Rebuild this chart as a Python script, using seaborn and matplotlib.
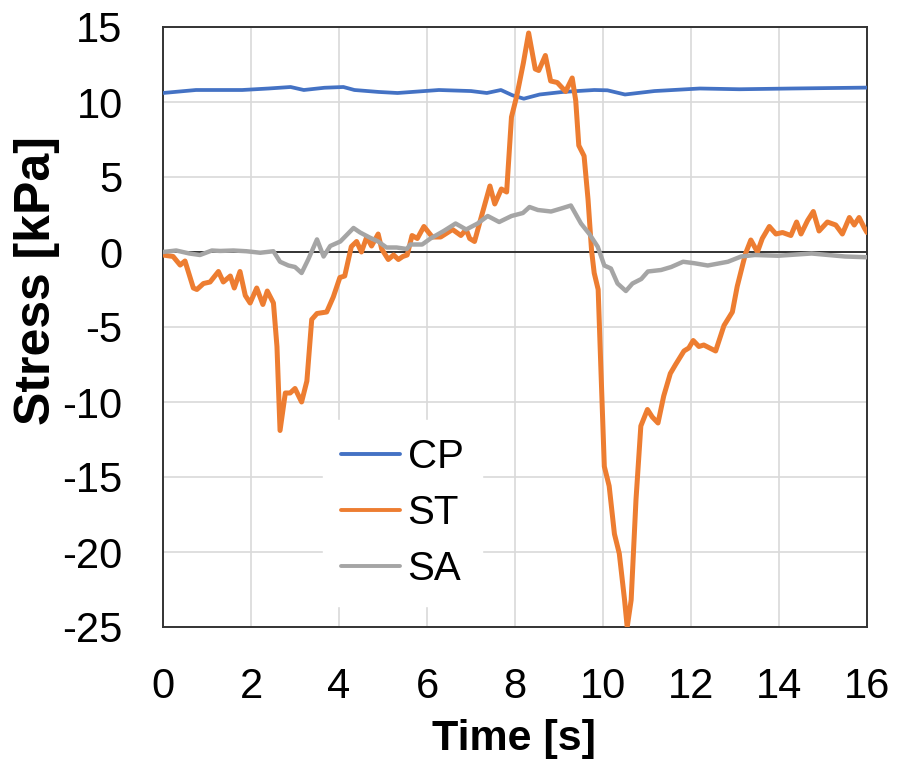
import numpy as np
import pandas as pd
import matplotlib
matplotlib.use("Agg")
import matplotlib.pyplot as plt
import seaborn as sns

# ---- data ----
cp_t = [0, 0.75, 1.8, 2.4, 2.9, 3.2, 3.67, 4.1, 4.35, 4.9, 5.33, 6.27, 7.0, 7.36, 7.68,
        7.94, 8.2, 8.56, 9.08, 9.8, 10.1, 10.5, 11.17, 12.2, 13.1, 14.3, 16.0]
cp_v = [10.6, 10.8, 10.8, 10.9, 11.0, 10.8, 10.95, 11.0, 10.8, 10.67, 10.6, 10.8, 10.73, 10.6, 10.8,
        10.45, 10.22, 10.5, 10.67, 10.8, 10.78, 10.5, 10.73, 10.9, 10.85, 10.9, 10.96]

st_t = [0.0, 0.23, 0.39, 0.5, 0.69, 0.77, 0.92, 1.07, 1.26, 1.37, 1.53, 1.62, 1.75, 1.87, 1.98,
        2.13, 2.27, 2.37, 2.51, 2.59, 2.66, 2.78, 2.89, 3.0, 3.15, 3.27, 3.38, 3.5, 3.72, 3.87,
        4.02, 4.13, 4.28, 4.4, 4.51, 4.63, 4.74, 4.89, 4.97, 5.12, 5.24, 5.35, 5.45, 5.55, 5.66,
        5.78, 5.93, 6.12, 6.31, 6.58, 6.77, 6.89, 6.97, 7.08, 7.24, 7.43, 7.54, 7.69, 7.81, 7.92,
        8.04, 8.19, 8.31, 8.46, 8.54, 8.69, 8.81, 8.96, 9.15, 9.3, 9.38, 9.45, 9.57, 9.66, 9.74,
        9.8, 9.89, 9.95, 10.03, 10.14, 10.26, 10.37, 10.49, 10.55, 10.64, 10.75, 10.86, 11.01,
        11.12, 11.25, 11.38, 11.53, 11.65, 11.84, 11.95, 12.05, 12.18, 12.29, 12.56, 12.75, 12.94,
        13.05, 13.17, 13.24, 13.36, 13.51, 13.62, 13.78, 13.93, 14.08, 14.27, 14.4, 14.5, 14.65,
        14.78, 14.91, 15.1, 15.29, 15.44, 15.6, 15.71, 15.82, 15.94, 16.0]
st_v = [-0.2, -0.3, -0.87, -0.6, -2.4, -2.5, -2.1, -2.0, -1.3, -2.0, -1.6, -2.4, -1.3, -2.9, -3.4,
        -2.4, -3.5, -2.6, -3.4, -6.3, -11.9, -9.4, -9.4, -9.1, -10.0, -8.6, -4.5, -4.1, -4.0, -3.0,
        -1.7, -1.6, 0.36, 0.7, 0.0, 1.0, 0.4, 1.2, 0.2, -0.5, -0.2, -0.5, -0.3, -0.2, 1.1,
        0.9, 1.7, 1.0, 1.0, 1.5, 1.1, 1.5, 0.9, 0.7, 2.4, 4.4, 3.2, 4.2, 4.0, 9.0,
        10.4, 12.6, 14.6, 12.2, 12.1, 13.1, 11.4, 11.3, 10.7, 11.6, 10.1, 7.1, 6.4, 3.5, 0.1,
        -1.4, -2.5, -7.6, -14.3, -15.6, -18.8, -20.1, -23.2, -25.0, -23.2, -16.5, -11.6, -10.5,
        -11.0, -11.4, -9.6, -8.1, -7.5, -6.6, -6.4, -5.9, -6.3, -6.2, -6.6, -4.9, -4.0,
        -2.3, -0.9, -0.1, 0.8, 0.0, 0.9, 1.7, 1.2, 1.3, 1.1, 2.0, 1.2, 2.1,
        2.7, 1.4, 2.0, 1.8, 1.2, 2.3, 1.8, 2.3, 1.6, 1.3]

sa_t = [0.0, 0.3, 0.6, 0.84, 1.11, 1.3, 1.6, 1.9, 2.21, 2.51, 2.66, 2.85, 3.0, 3.15, 3.3, 3.5,
        3.65, 3.8, 4.03, 4.33, 4.48, 4.7, 4.89, 5.08, 5.31, 5.54, 5.62, 5.89, 6.08, 6.38, 6.65,
        6.89, 7.15, 7.38, 7.64, 7.92, 8.18, 8.33, 8.52, 8.82, 9.05, 9.27, 9.5, 9.69, 9.88, 10.03,
        10.18, 10.33, 10.52, 10.67, 10.87, 11.02, 11.32, 11.55, 11.82, 12.08, 12.38, 12.84, 13.14,
        13.45, 13.98, 14.74, 15.5, 16.0]
sa_v = [0.0, 0.1, -0.1, -0.2, 0.1, 0.07, 0.1, 0.05, -0.05, 0.05, -0.65, -0.9, -1.0, -1.4, -0.5, 0.84,
        -0.3, 0.4, 0.7, 1.6, 1.3, 0.96, 0.7, 0.3, 0.3, 0.2, 0.5, 0.5, 0.9, 1.4, 1.9,
        1.5, 1.9, 2.4, 2.0, 2.4, 2.6, 3.0, 2.8, 2.7, 2.9, 3.1, 1.9, 1.2, 0.35, -0.9,
        -1.1, -2.1, -2.6, -2.1, -1.8, -1.3, -1.2, -1.0, -0.65, -0.75, -0.9, -0.65, -0.3,
        -0.2, -0.25, -0.1, -0.3, -0.35]

series_names = ["CP", "ST", "SA"]
x_ticks = [0, 2, 4, 6, 8, 10, 12, 14, 16]
y_ticks = [-25, -20, -15, -10, -5, 0, 5, 10, 15]

df = pd.concat([
    pd.DataFrame({"Time": cp_t, "Stress": cp_v, "Series": "CP"}),
    pd.DataFrame({"Time": st_t, "Stress": st_v, "Series": "ST"}),
    pd.DataFrame({"Time": sa_t, "Stress": sa_v, "Series": "SA"}),
], ignore_index=True)

palette = {"CP": "#4472C4", "ST": "#ED7D31", "SA": "#A5A5A5"}
widths = {"CP": 2.7, "ST": 3.6, "SA": 3.2}

sns.set_theme(style="white")
plt.rcParams['font.family'] = ['Liberation Sans', 'DejaVu Sans']
plt.rcParams['text.color'] = 'black'
plt.rcParams['axes.labelcolor'] = 'black'
plt.rcParams['xtick.color'] = 'black'
plt.rcParams['ytick.color'] = 'black'

fig = plt.figure(figsize=(9.19, 7.61), dpi=100)
ax = fig.add_axes([163/919, 1-627/761, 704/919, 600/761])

for name in series_names:
    sub = df[df["Series"] == name]
    sns.lineplot(data=sub, x="Time", y="Stress", ax=ax, color=palette[name],
                 linewidth=widths[name], label=name, sort=False, estimator=None, zorder=3,
                 solid_joinstyle="round", solid_capstyle="round")

ax.set_xlim(0, 16)
ax.set_ylim(-25, 15)
ax.set_xticks(x_ticks)
ax.set_yticks(y_ticks)
ax.set_xticklabels([str(v) for v in x_ticks])
ax.set_yticklabels([str(v) for v in y_ticks])
ax.grid(True, color="#D9D9D9", linewidth=1.2, zorder=0)
ax.set_axisbelow(True)
ax.axhline(0, color="#333333", linewidth=1.4, zorder=2)
for s in ax.spines.values():
    s.set_visible(True)
    s.set_color("#333333")
    s.set_linewidth(1.4)
ax.tick_params(axis="both", labelsize=30, length=0, colors="black")
ax.tick_params(axis="y", pad=29)
ax.tick_params(axis="x", pad=29)
ax.set_xlabel("Time [s]", fontsize=31, fontweight="bold")
ax.set_ylabel("Stress [kPa]", fontsize=36, fontweight="bold")
ax.xaxis.set_label_coords(0.499, -0.153)
ax.yaxis.set_label_coords(-0.146, 0.578)

leg = ax.legend(loc="center", bbox_to_anchor=(0.34, 0.19), fontsize=29, frameon=True,
                handlelength=1.45, handletextpad=0.2, labelspacing=0.44, borderpad=0.45,
                borderaxespad=0)
leg.get_frame().set_facecolor("white")
leg.get_frame().set_edgecolor("white")
leg.get_frame().set_alpha(1.0)
leg.get_frame().set_boxstyle("square", pad=0)
leg.set_zorder(5)
for line in leg.get_lines():
    line.set_linewidth(2.8)

fig.savefig("out.png", dpi=100)
